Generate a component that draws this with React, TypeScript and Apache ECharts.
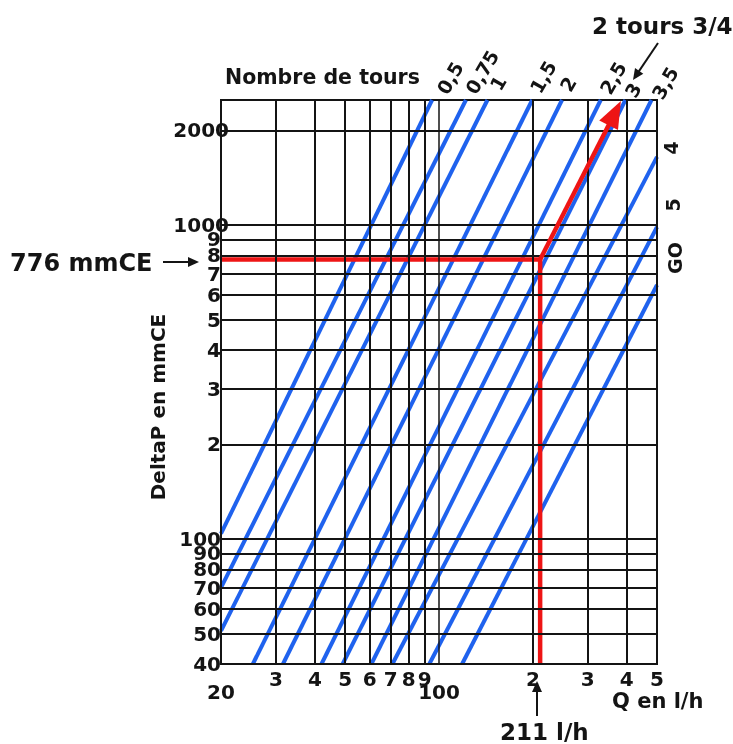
import React, { useEffect, useRef } from 'react';
import * as echarts from 'echarts';

const turnLabels = ['0,5', '0,75', '1', '1,5', '2', '2,5', '3', '3,5', '4', '5', 'GO'];
const startQ = [20, 20, 20, 25.3, 31.6, 42.0, 49.1, 60.7, 70.9, 93.1, 118.6];
const startP = [104, 70, 51, 40, 40, 40, 40, 40, 40, 40, 40];
const endQ = [95, 122, 143, 199, 248, 330, 396, 480, 500, 500, 500];
const endP = [2500, 2500, 2500, 2500, 2500, 2500, 2500, 2500, 1647, 985, 644];

// Axes
const xMin = 20;
const xMax = 500;
const yMin = 40;
const yMax = 2500;
const xGridValues = [20, 30, 40, 50, 60, 70, 80, 90, 100, 200, 300, 400, 500];
const xTickLabels = ['20', '3', '4', '5', '6', '7', '8', '9', '100', '2', '3', '4', '5'];
const yGridValues = [40, 50, 60, 70, 80, 90, 100, 200, 300, 400, 500, 600, 700, 800, 900, 1000, 2000];
const yTickLabels = ['40', '50', '60', '70', '80', '90', '100', '2', '3', '4', '5', '6', '7', '8', '9', '1000', '2000'];

// Operating point and the "2 tours 3/4" arrow tip
const opQ = 211;
const opP = 776;
const arrowTip = [383, 2480];

export default function App() {
  const ref = useRef<HTMLDivElement>(null);

  useEffect(() => {
    const chart = echarts.init(ref.current!, null, { renderer: 'svg' });
    const font = 'DejaVu Sans';
    const ink = '#141414';
    const blue = '#1f62ee';
    const red = '#ee1515';

    const arrow = (x1: number, y1: number, x2: number, y2: number, head = 11, w = 10, color = ink, lw = 2) => {
      const a = Math.atan2(y2 - y1, x2 - x1);
      const bx = x2 - head * Math.cos(a);
      const by = y2 - head * Math.sin(a);
      const px = (-Math.sin(a) * w) / 2;
      const py = (Math.cos(a) * w) / 2;
      const sx = x2 - (head * 0.7) * Math.cos(a);
      const sy = y2 - (head * 0.7) * Math.sin(a);
      return [
        { type: 'line', z: 10, shape: { x1, y1, x2: sx, y2: sy }, style: { stroke: color, lineWidth: lw } },
        {
          type: 'polygon',
          z: 10,
          shape: { points: [[x2, y2], [bx + px, by + py], [bx - px, by - py]] },
          style: { fill: color },
        },
      ];
    };

    const txt = (text: string, x: number, y: number, size: number, align = 'center', rotation = 0) => ({
      type: 'text',
      x,
      y,
      rotation,
      style: {
        text,
        fill: ink,
        font: `bold ${size}px "${font}"`,
        align,
        verticalAlign: 'middle',
      },
    });

    // layout of line labels (annotation positions)
    const topLabelPos: Record<string, [number, number]> = {
      '0,5': [450, 78],
      '0,75': [482, 72],
      '1': [498, 83],
      '1,5': [543, 77],
      '2': [568, 84],
      '2,5': [613, 78],
      '3': [633, 90],
      '3,5': [665, 83],
    };
    const sideLabelPos: Record<string, [number, number]> = {
      '4': [671, 148],
      '5': [673, 205],
      'GO': [675, 258],
    };

    const lineLabels = turnLabels.map((t) => {
      if (topLabelPos[t]) return txt(t, topLabelPos[t][0], topLabelPos[t][1], 19, 'center', Math.PI / 3);
      const p = sideLabelPos[t];
      return txt(t, p[0], p[1], 19, 'center', Math.PI / 2);
    });

    const gridLineData: any[] = [
      ...xGridValues.map((v, i) => ({
        xAxis: v,
        lineStyle: { width: v === 100 ? 1.5 : 2 },
        label: {
          formatter: xTickLabels[i],
          distance: v === 20 || v === 100 ? 18 : 5,
        },
      })),
      ...yGridValues.map((v, i) => ({
        yAxis: v,
        label: {
          formatter: yTickLabels[i],
          distance: v >= 1000 ? -8 : 0,
        },
      })),
    ];

    const blueSeries = turnLabels.map((name, i) => ({
      type: 'line',
      name,
      data: [
        [startQ[i], startP[i]],
        [endQ[i], endP[i]],
      ],
      symbol: 'none',
      silent: true,
      z: 3,
      lineStyle: { color: blue, width: 4 },
    }));

    chart.setOption({
      animation: false,
      grid: {
        left: 221,
        right: 76,
        top: 100,
        bottom: 80,
        show: true,
        borderColor: ink,
        borderWidth: 2,
        backgroundColor: 'transparent',
      },
      xAxis: {
        type: 'log',
        logBase: 10,
        min: xMin,
        max: xMax,
        axisLine: { show: false },
        axisTick: { show: false },
        axisLabel: { show: false },
        splitLine: { show: false },
      },
      yAxis: {
        type: 'log',
        logBase: 10,
        min: yMin,
        max: yMax,
        axisLine: { show: false },
        axisTick: { show: false },
        axisLabel: { show: false },
        splitLine: { show: false },
      },
      series: [
        {
          type: 'line',
          name: 'grid',
          data: [[xMin, yMin]],
          symbol: 'none',
          silent: true,
          z: 1,
          lineStyle: { width: 0 },
          markLine: {
            silent: true,
            symbol: ['none', 'none'],
            animation: false,
            lineStyle: { color: ink, width: 2, type: 'solid' },
            label: {
              show: true,
              position: 'start',
              color: ink,
              fontFamily: font,
              fontWeight: 'bold',
              fontSize: 20,
            },
            data: gridLineData,
          },
        },
        ...blueSeries,
        {
          type: 'line',
          name: 'point',
          data: [
            [xMin, opP],
            [opQ, opP],
            [opQ, yMin],
          ],
          symbol: 'none',
          silent: true,
          z: 4,
          lineStyle: { color: red, width: 4.5 },
        },
      ],
    });

    // red arrow from the operating point to the "2 tours 3/4" setting, placed through the chart's scales
    const p0 = chart.convertToPixel({ gridIndex: 0 }, [opQ, opP]) as number[];
    const p1 = chart.convertToPixel({ gridIndex: 0 }, arrowTip) as number[];

    chart.setOption({
      graphic: [
        txt('Nombre de tours', 225, 77, 20.5, 'left'),
        txt('2 tours 3/4', 592, 26, 23, 'left'),
        ...arrow(658, 43, 633, 80),
        txt('776 mmCE', 10, 263, 24, 'left'),
        ...arrow(163, 262, 199, 262),
        txt('DeltaP en mmCE', 158, 407, 20, 'center', Math.PI / 2),
        txt('Q en l/h', 612, 701, 21, 'left'),
        txt('211 l/h', 500, 732, 23, 'left'),
        ...arrow(537, 716, 537, 681),
        ...lineLabels,
        ...arrow(p0[0], p0[1], p1[0], p1[1], 27, 21, red, 4.5),
      ],
    });

    return () => chart.dispose();
  }, []);

  return <div ref={ref} style={{ position: 'fixed', left: 0, top: 0, width: 733, height: 744 }} />;
}
